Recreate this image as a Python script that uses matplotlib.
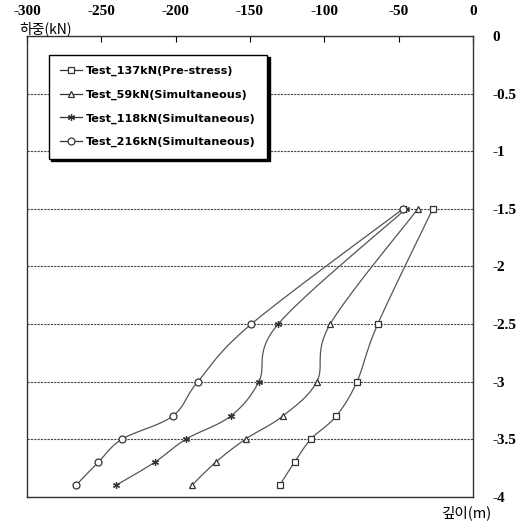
import numpy as np
import matplotlib
matplotlib.use('Agg')
import matplotlib.pyplot as plt

depth = [-1.5, -2.5, -3.0, -3.3, -3.5, -3.7, -3.9]
load_137_pre = [-27, -64, -78, -92, -109, -120, -130]
load_59_sim = [-37, -96, -105, -128, -153, -173, -189]
load_118_sim = [-45, -131, -144, -163, -193, -214, -240]
load_216_sim = [-47, -149, -185, -202, -236, -252, -267]

labels = ['Test_137kN(Pre-stress)', 'Test_59kN(Simultaneous)',
          'Test_118kN(Simultaneous)', 'Test_216kN(Simultaneous)']
markers = ['s', '^', (6, 2, 0), 'o']
series = [load_137_pre, load_59_sim, load_118_sim, load_216_sim]


def smooth(xs, ys, n=20):
    # catmull-rom, like excel's smoothed line
    p = np.column_stack([xs, ys]).astype(float)
    p = np.vstack([p[0], p, p[-1]])
    out = []
    for i in range(1, len(p) - 2):
        p0, p1, p2, p3 = p[i - 1], p[i], p[i + 1], p[i + 2]
        t = np.linspace(0, 1, n)[:, None]
        c = 0.5 * ((2 * p1) + (-p0 + p2) * t + (2 * p0 - 5 * p1 + 4 * p2 - p3) * t ** 2
                   + (-p0 + 3 * p1 - 3 * p2 + p3) * t ** 3)
        out.append(c)
    out = np.vstack(out)
    return out[:, 0], out[:, 1]


fig = plt.figure(figsize=(5.16, 5.24), dpi=100)
ax = fig.add_axes([0.0523, 0.0521, 0.8643, 0.8792])

for s, m, lab in zip(series, markers, labels):
    sx, sy = smooth(s, depth)
    ax.plot(sx, sy, color='#555555', lw=0.9, zorder=2)
    ax.plot(s, depth, ls='none', marker=m, ms=5, mfc='white', mec='#333333',
            mew=0.9, zorder=3)
    ax.plot([], [], color='#333333', lw=0.9, marker=m, ms=5,
            mfc='white', mec='#333333', mew=0.9, label=lab)

ax.set_xlim(-300, 0)
ax.set_ylim(-4, 0)
ax.set_xticks(np.arange(-300, 1, 50))
ax.set_yticks(np.arange(-4, 0.01, 0.5))
ax.set_xticklabels([str(v) for v in range(-300, 1, 50)])
ax.set_yticklabels(['-4', '-3.5', '-3', '-2.5', '-2', '-1.5', '-1', '-0.5', '0'])
ax.xaxis.tick_top()
ax.yaxis.tick_right()
ax.tick_params(axis='x', direction='in', length=4, pad=13, labelsize=11)
ax.tick_params(axis='y', length=0, pad=14, labelsize=11)
for t in ax.get_xticklabels() + ax.get_yticklabels():
    t.set_family('Liberation Serif')
    t.set_fontweight('bold')
ax.yaxis.grid(True, ls=(0, (2, 1)), color='#444444', lw=0.8)
for sp in ax.spines.values():
    sp.set_color('#333333')
    sp.set_linewidth(1.0)

fig.text(0.038, 0.945, '하중(kN)', family=['Noto Sans CJK KR', 'DejaVu Sans'],
         fontsize=10, ha='left', va='center')
fig.text(0.855, 0.022, '깊이(m)', family=['Noto Sans CJK KR', 'DejaVu Sans'],
         fontsize=10.5, ha='left', va='center')

leg = ax.legend(loc='upper left', bbox_to_anchor=(0.036, 0.972), fancybox=False,
                shadow={'color': 'black', 'alpha': 1, 'ox': 2, 'oy': -2},
                edgecolor='black', framealpha=1, handlelength=2.0,
                handletextpad=0.3, labelspacing=1.2, borderpad=1.0,
                prop={'family': 'DejaVu Sans', 'weight': 'bold', 'size': 8.1})
leg.get_frame().set_linewidth(1.0)

fig.savefig('out.png', dpi=100)
